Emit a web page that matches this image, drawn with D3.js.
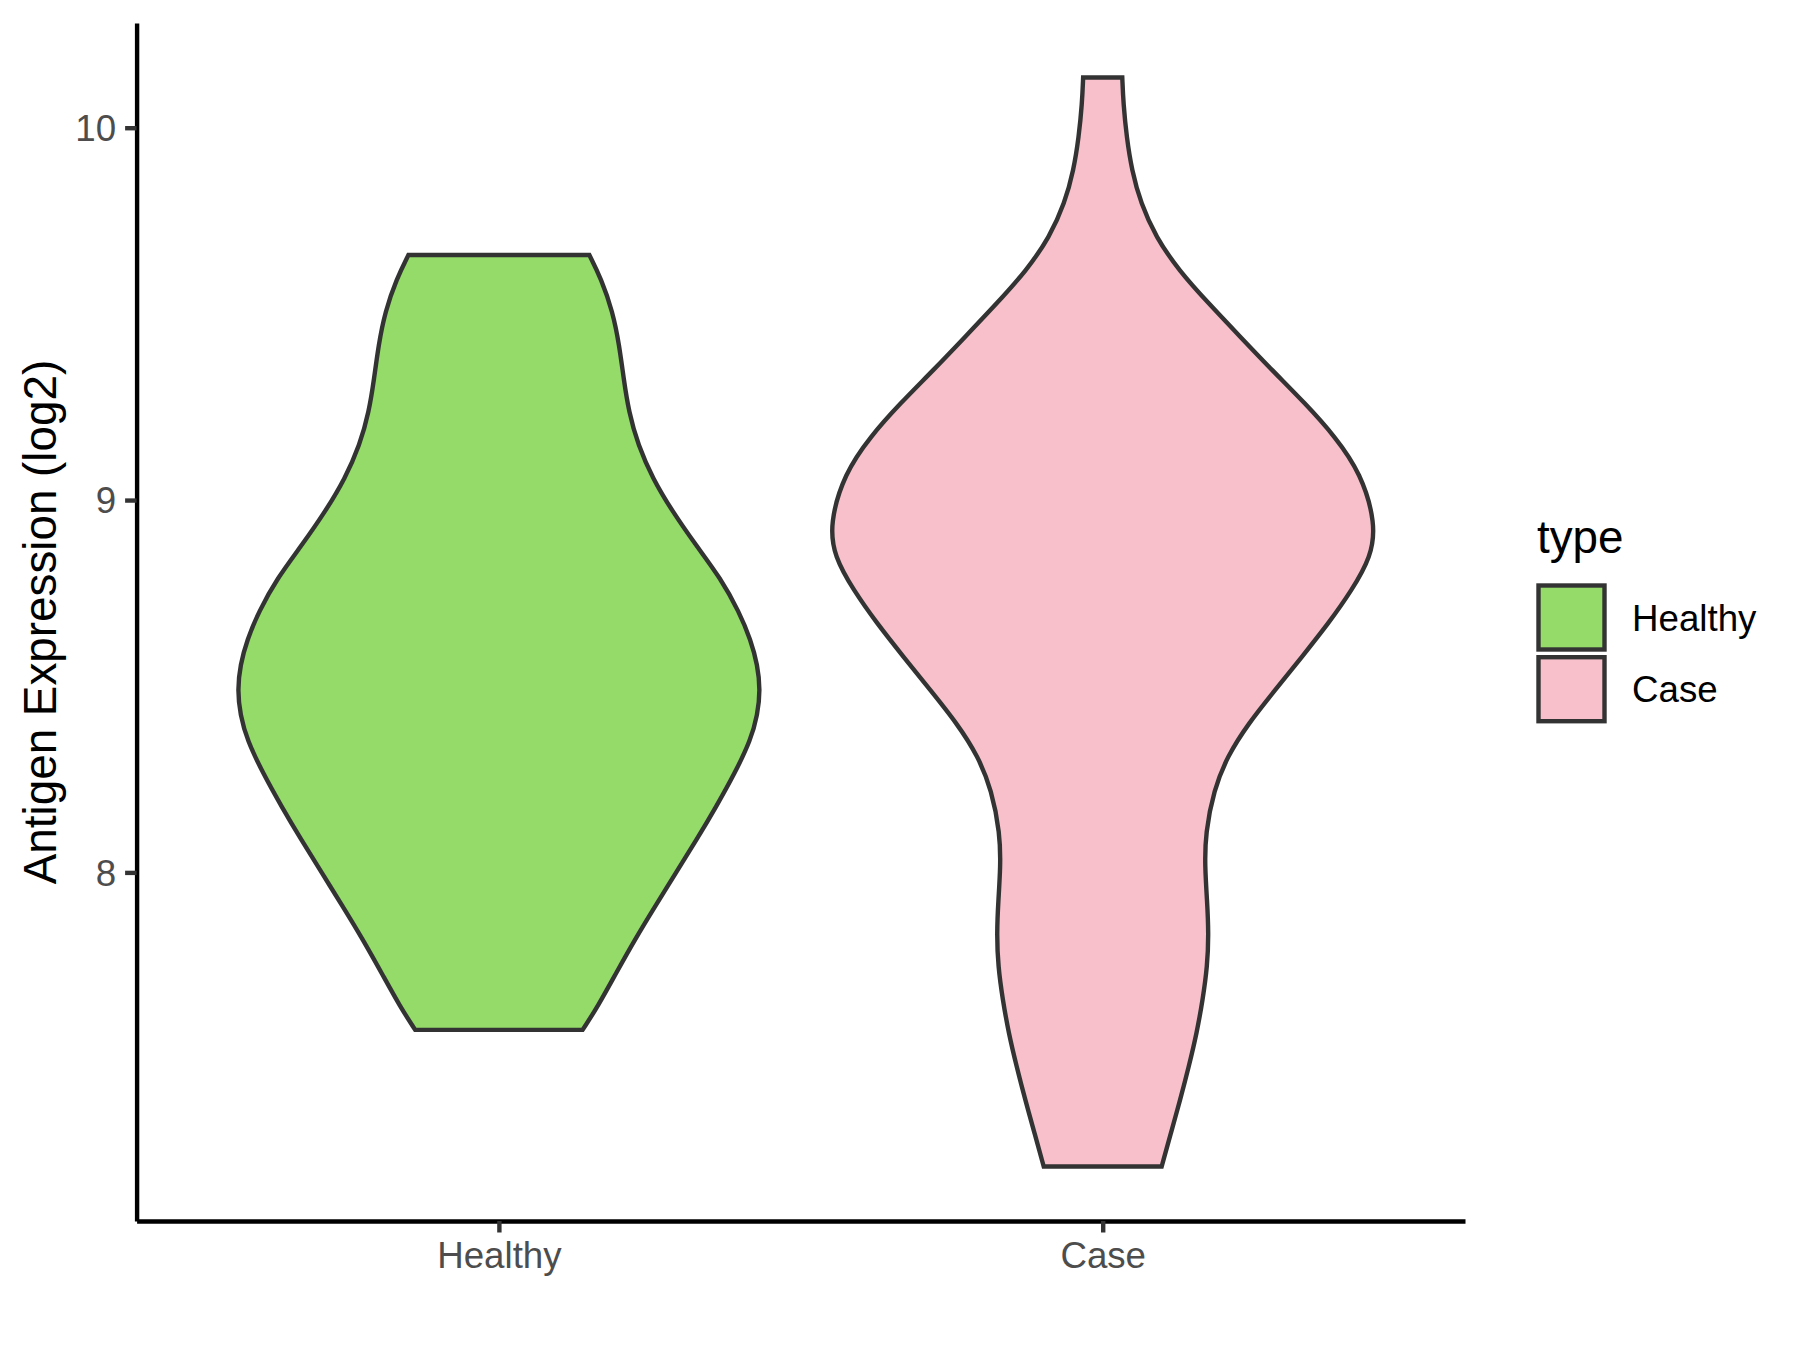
<!DOCTYPE html>
<html>
<head>
<meta charset="utf-8">
<script src="https://cdn.jsdelivr.net/npm/d3@7"></script>
<style>
  body { margin: 0; background: #fff; }
  svg { display: block; font-family: "Liberation Sans", Arial, sans-serif; }
</style>
</head>
<body>
<svg id="chart"></svg>
<script>
//// DATA

const categories = ["Healthy", "Case"];
const fills = ["#94DB6A", "#F8C0CB"];
const yTicks = [8, 9, 10];

// violin outlines: expression value and relative density (widest = 1)
const healthyValues = [9.658, 9.595, 9.506, 9.416, 9.327, 9.237, 9.148, 9.058, 8.969, 8.879,
    8.790, 8.700, 8.624, 8.557, 8.490, 8.423, 8.356, 8.266, 8.177, 8.087,
    7.998, 7.908, 7.819, 7.729, 7.640, 7.577];
const healthyDensity = [0.333, 0.376, 0.419, 0.443, 0.459, 0.478, 0.512, 0.566, 0.639, 0.725,
    0.816, 0.884, 0.927, 0.952, 0.962, 0.952, 0.927, 0.868, 0.800, 0.727,
    0.651, 0.574, 0.500, 0.431, 0.364, 0.308];

const caseValues = [10.135, 10.065, 9.975, 9.886, 9.797, 9.707, 9.617, 9.528, 9.438, 9.349,
    9.260, 9.170, 9.072, 8.937, 8.848, 8.758, 8.669, 8.579, 8.490, 8.401,
    8.311, 8.221, 8.105, 8.016, 7.926, 7.837, 7.747, 7.658, 7.568, 7.479,
    7.389, 7.300, 7.210];
const caseDensity = [0.072, 0.076, 0.088, 0.107, 0.140, 0.195, 0.280, 0.390, 0.507, 0.623,
    0.745, 0.856, 0.950, 1.005, 0.988, 0.917, 0.831, 0.733, 0.635, 0.537,
    0.458, 0.409, 0.378, 0.376, 0.384, 0.390, 0.385, 0.368, 0.346, 0.317,
    0.285, 0.251, 0.217];

//// SETTINGS

const width = 1800;
const height = 1350;
const plot = { left: 136.6, right: 1465, top: 23, bottom: 1221 };
const lineW = 4.4;
const tickLen = 11.5;

const svg = d3.select("#chart").attr("width", width).attr("height", height);

const violins = [
    { name: categories[0], fill: fills[0], values: healthyValues, density: healthyDensity },
    { name: categories[1], fill: fills[1], values: caseValues, density: caseDensity },
];

// y domain with ggplot's 5% expansion
let allValues = healthyValues.concat(caseValues);
let ext = d3.extent(allValues);
let pad = (ext[1] - ext[0]) * 0.05;

const y = d3.scaleLinear()
    .domain([ext[0] - pad, ext[1] + pad])
    .range([plot.bottom, plot.top]);

const x = d3.scalePoint()
    .domain(categories)
    .range([plot.left, plot.right])
    .padding(0.6);

const halfWidth = d3.scaleLinear()
    .domain([0, 1])
    .range([0, x.step() * 0.45]);

//// VIOLINS

violins.forEach(function (vio) {
    let pts = vio.values.map((v, i) => ({ v: v, d: vio.density[i] }));
    let cx = x(vio.name);
    let area = d3.area()
        .y(d => y(d.v))
        .x0(d => cx - halfWidth(d.d))
        .x1(d => cx + halfWidth(d.d))
        .curve(d3.curveBasis);

    svg.append("path")
        .datum(pts)
        .attr("d", area)
        .attr("fill", vio.fill)
        .attr("stroke", "#333333")
        .attr("stroke-width", lineW)
        .attr("stroke-linejoin", "miter");
});

//// AXES

const yAxis = svg.append("g")
    .attr("transform", `translate(${plot.left},0)`)
    .call(d3.axisLeft(y).tickValues(yTicks).tickFormat(d3.format("d"))
        .tickSize(tickLen).tickSizeOuter(0).tickPadding(9));

const xAxis = svg.append("g")
    .attr("transform", `translate(0,${plot.bottom})`)
    .call(d3.axisBottom(x).tickSize(tickLen).tickSizeOuter(0).tickPadding(9));

[yAxis, xAxis].forEach(function (ax) {
    ax.select(".domain").attr("stroke", "#000").attr("stroke-width", lineW);
    ax.selectAll(".tick line").attr("stroke", "#333333").attr("stroke-width", lineW);
    ax.selectAll(".tick text")
        .attr("fill", "#4D4D4D")
        .style("font-size", "36.7px")
        .style("font-family", "'Liberation Sans', Arial, sans-serif");
});
yAxis.selectAll(".tick text").attr("dy", "0.35em");
xAxis.selectAll(".tick text").attr("dy", "0.72em");

// y axis title
svg.append("text")
    .attr("transform", `translate(56,${(plot.top + plot.bottom) / 2}) rotate(-90)`)
    .attr("text-anchor", "middle")
    .style("font-size", "45.8px")
    .attr("fill", "#000")
    .text("Antigen Expression (log2)");

//// LEGEND

const legend = svg.append("g").attr("transform", "translate(1537,0)");

legend.append("text")
    .attr("x", 0)
    .attr("y", 553)
    .style("font-size", "45.8px")
    .attr("fill", "#000")
    .text("type");

violins.forEach(function (vio, i) {
    let top = 585.5 + i * 71.7;
    legend.append("rect")
        .attr("x", 1.5)
        .attr("y", top)
        .attr("width", 66)
        .attr("height", 64)
        .attr("fill", vio.fill)
        .attr("stroke", "#333333")
        .attr("stroke-width", lineW);
    legend.append("text")
        .attr("x", 95)
        .attr("y", top + 32 + 13)
        .style("font-size", "36.7px")
        .attr("fill", "#000")
        .text(vio.name);
});
</script>
</body>
</html>
